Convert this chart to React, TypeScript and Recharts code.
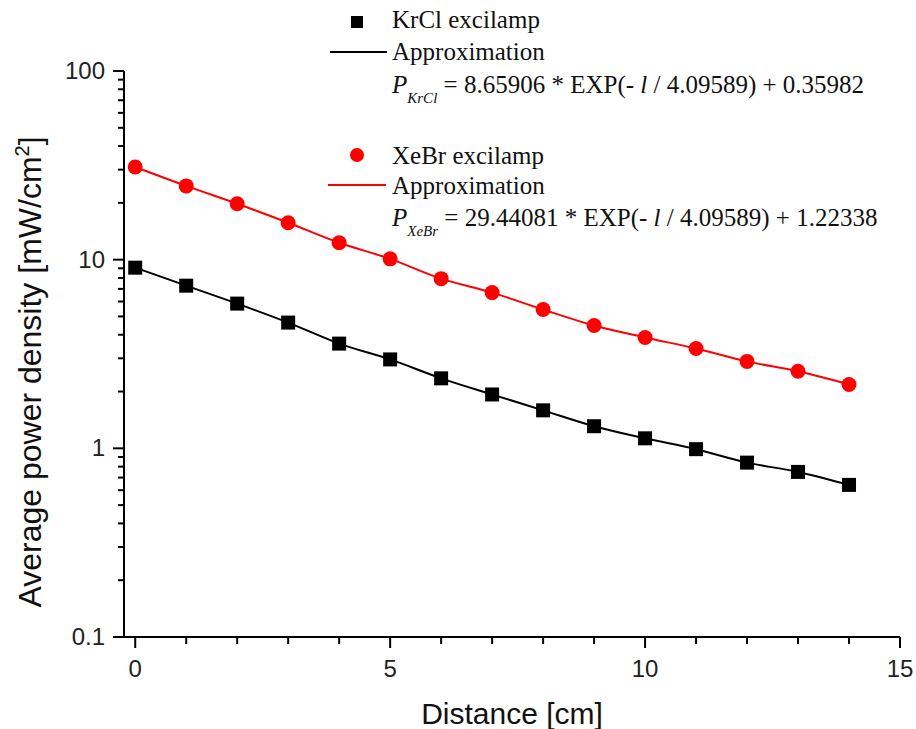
import { ComposedChart, Line, Scatter, XAxis, YAxis, Customized } from 'recharts'

const distance = [0, 1, 2, 3, 4, 5, 6, 7, 8, 9, 10, 11, 12, 13, 14]
const krclMeasured = [9.07, 7.28, 5.85, 4.64, 3.59, 2.96, 2.35, 1.93, 1.59, 1.31, 1.13, 0.99, 0.84, 0.75, 0.64]
const xebrMeasured = [31.0, 24.6, 19.8, 15.7, 12.3, 10.1, 7.93, 6.69, 5.44, 4.48, 3.87, 3.38, 2.89, 2.56, 2.18]

const yMajorTicks = [0.1, 1, 10, 100]
const yMinorTicks = [0.2, 0.3, 0.4, 0.5, 0.6, 0.7, 0.8, 0.9, 2, 3, 4, 5, 6, 7, 8, 9, 20, 30, 40, 50, 60, 70, 80, 90]
const xMajorTicks = [0, 5, 10, 15]
const xMinorTicks = [1, 2, 3, 4, 6, 7, 8, 9, 11, 12, 13, 14]

const rows = distance.map((d, i) => ({ d, krcl: krclMeasured[i], xebr: xebrMeasured[i] }))

const SANS = 'Arial, "Liberation Sans", sans-serif'
const SERIF = '"Times New Roman", "Liberation Serif", serif'

function YTick({ x, y, payload }: any) {
  const major = yMajorTicks.includes(payload.value)
  return (
    <g>
      <line x1={x - (major ? 11 : 6)} x2={x} y1={y} y2={y} stroke="#000" strokeWidth={2} />
      {major && (
        <text x={x - 19} y={y + 8} textAnchor="end" fontSize={24} fontFamily={SANS} fill="#222">
          {payload.value}
        </text>
      )}
    </g>
  )
}

function XTick({ x, y, payload }: any) {
  const major = xMajorTicks.includes(payload.value)
  return (
    <g>
      <line x1={x} x2={x} y1={y} y2={y + (major ? 11 : 7)} stroke="#000" strokeWidth={2} />
      {major && (
        <text x={x} y={y + 40} textAnchor="middle" fontSize={24} fontFamily={SANS} fill="#222">
          {payload.value}
        </text>
      )}
    </g>
  )
}

const Square = ({ cx, cy }: any) => <rect x={cx - 7} y={cy - 7} width={14} height={14} fill="#000" />
const Dot = ({ cx, cy }: any) => <circle cx={cx} cy={cy} r={7.5} fill="#f00" />

function Annotations() {
  return (
    <g fontFamily={SERIF} fontSize={25} fill="#111">
      <text x={512} y={724} textAnchor="middle" fontFamily={SANS} fontSize={30}>Distance [cm]</text>
      <text transform="translate(41, 372) rotate(-90)" textAnchor="middle" fontFamily={SANS} fontSize={32}>
        Average power density [mW/cm<tspan fontSize={20} dy={-12}>2</tspan><tspan dy={12}>]</tspan>
      </text>

      <rect x={351} y={16} width={12} height={12} fill="#000" />
      <text x={392} y={28}>KrCl excilamp</text>
      <line x1={330} x2={387} y1={52} y2={52} stroke="#000" strokeWidth={2} />
      <text x={392} y={60}>Approximation</text>
      <text x={392} y={93}>
        <tspan fontStyle="italic">P</tspan>
        <tspan fontStyle="italic" fontSize={15} dy={10}>KrCl</tspan>
        <tspan dy={-10}>{' = 8.65906 * EXP(- '}</tspan>
        <tspan fontStyle="italic">l</tspan>
        <tspan>{' / 4.09589) + 0.35982'}</tspan>
      </text>

      <circle cx={357} cy={155} r={7} fill="#f00" />
      <text x={392} y={164}>XeBr excilamp</text>
      <line x1={328} x2={386} y1={185} y2={185} stroke="#f00" strokeWidth={2} />
      <text x={392} y={194}>Approximation</text>
      <text x={392} y={226}>
        <tspan fontStyle="italic">P</tspan>
        <tspan fontStyle="italic" fontSize={15} dy={10}>XeBr</tspan>
        <tspan dy={-10}>{' = 29.44081 * EXP(- '}</tspan>
        <tspan fontStyle="italic">l</tspan>
        <tspan>{' / 4.09589) + 1.22338'}</tspan>
      </text>
    </g>
  )
}

export default function App() {
  return (
    <div style={{ position: 'absolute', left: 0, top: 0, background: '#fff' }}>
      <ComposedChart width={916} height={729} data={rows} margin={{ top: 71, right: 16, bottom: 91, left: 123 }}>
        <XAxis
          dataKey="d"
          type="number"
          domain={[-0.22, 15]}
          ticks={[...xMajorTicks, ...xMinorTicks]}
          interval={0}
          tick={<XTick />}
          tickLine={false}
          tickSize={0}
          tickMargin={0}
          height={1}
          axisLine={{ stroke: '#000', strokeWidth: 2 }}
          allowDataOverflow
        />
        <YAxis
          scale="log"
          type="number"
          domain={[0.1, 100]}
          ticks={[...yMajorTicks, ...yMinorTicks]}
          interval={0}
          tick={<YTick />}
          tickLine={false}
          tickSize={0}
          tickMargin={0}
          width={1}
          axisLine={{ stroke: '#000', strokeWidth: 2 }}
          allowDataOverflow
        />
        <Line dataKey="krcl" type="monotone" stroke="#000" strokeWidth={2} dot={false} isAnimationActive={false} />
        <Line dataKey="xebr" type="monotone" stroke="#f00" strokeWidth={2} dot={false} isAnimationActive={false} />
        <Scatter dataKey="krcl" shape={<Square />} isAnimationActive={false} />
        <Scatter dataKey="xebr" shape={<Dot />} isAnimationActive={false} />
        <Customized component={<Annotations />} />
      </ComposedChart>
    </div>
  )
}
